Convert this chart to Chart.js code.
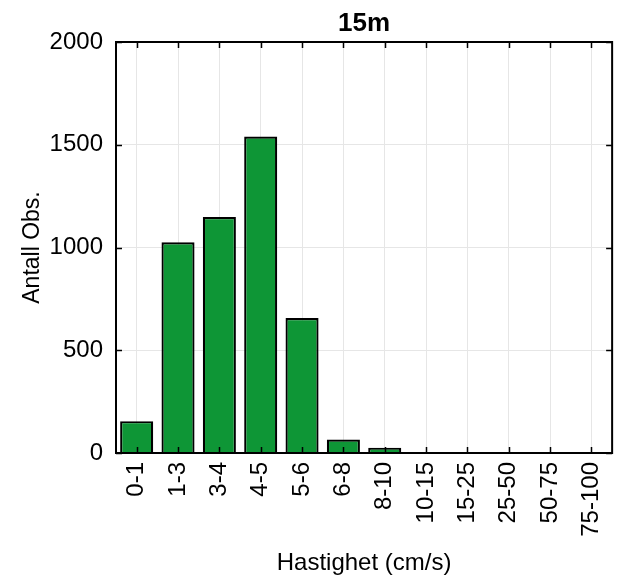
<!DOCTYPE html>
<html>
<head>
<meta charset="utf-8">
<script src="https://cdn.jsdelivr.net/npm/chart.js@4"></script>
<style>
  html, body { margin: 0; padding: 0; background: #fff; }
  #wrap { width: 630px; height: 583px; }
</style>
</head>
<body>
<div id="wrap"><canvas id="c" width="630" height="583"></canvas></div>
<script>
// Speed classes (cm/s) and number of observations at 15 m depth
const speedClasses = ['0-1', '1-3', '3-4', '4-5', '5-6', '6-8', '8-10', '10-15', '15-25', '25-50', '50-75', '75-100'];
const observations = [155, 1025, 1148, 1540, 657, 66, 26, 0, 0, 0, 0, 0];
const yTickValues = [0, 500, 1000, 1500, 2000];

const FONT = 'Liberation Sans, Arial, Helvetica, sans-serif';

// Frame around the plot area with short inward tick marks on all four sides
const boxFrame = {
  id: 'boxFrame',
  afterDraw(chart) {
    const { ctx, chartArea: a, scales: { x, y } } = chart;
    const len = 6;
    ctx.save();
    ctx.strokeStyle = '#000';
    ctx.lineWidth = 1.5;
    ctx.beginPath();
    x.ticks.forEach((t, i) => {
      const px = Math.round(x.getPixelForTick(i)) + 0.5;
      ctx.moveTo(px, a.bottom); ctx.lineTo(px, a.bottom - len);
      ctx.moveTo(px, a.top); ctx.lineTo(px, a.top + len);
    });
    yTickValues.forEach(v => {
      const py = Math.round(y.getPixelForValue(v)) + 0.5;
      ctx.moveTo(a.left, py); ctx.lineTo(a.left + len, py);
      ctx.moveTo(a.right, py); ctx.lineTo(a.right - len, py);
    });
    ctx.stroke();
    ctx.lineWidth = 2;
    ctx.strokeRect(a.left, a.top, a.right - a.left, a.bottom - a.top);
    ctx.restore();
  }
};

new Chart(document.getElementById('c'), {
  type: 'bar',
  data: {
    labels: speedClasses,
    datasets: [{
      data: observations,
      backgroundColor: '#0e9636',
      borderColor: '#000',
      borderWidth: 2.2,
      borderSkipped: 'start',
      barPercentage: 0.8,
      categoryPercentage: 1.0
    }]
  },
  options: {
    responsive: false,
    animation: false,
    layout: { padding: { left: 0, right: 6, top: 0, bottom: 0 } },
    plugins: {
      legend: { display: false },
      tooltip: { enabled: false },
      title: {
        display: true,
        fullSize: false,
        text: '15m',
        color: '#000',
        font: { family: FONT, size: 26, weight: 'bold' },
        padding: { top: 8, bottom: 2.8 }
      }
    },
    scales: {
      x: {
        grid: { color: '#e6e6e6', lineWidth: 1, offset: false, drawTicks: false },
        border: { display: false },
        ticks: {
          color: '#000',
          font: { family: FONT, size: 24 },
          minRotation: 90,
          maxRotation: 90,
          autoSkip: false,
          padding: 9
        },
        title: {
          display: true,
          text: 'Hastighet (cm/s)',
          color: '#000',
          font: { family: FONT, size: 24 },
          padding: { top: 0, bottom: 5 }
        },
        afterFit(s) { s.height = 130; }
      },
      y: {
        min: 0,
        max: 2000,
        grid: { color: '#e6e6e6', lineWidth: 1, drawTicks: false },
        border: { display: false },
        ticks: {
          stepSize: 500,
          color: '#000',
          font: { family: FONT, size: 24 },
          padding: 13,
          callback: v => String(v)
        },
        title: {
          display: true,
          text: 'Antall Obs.',
          color: '#000',
          font: { family: FONT, size: 23 },
          padding: { top: 19, bottom: 0 }
        },
        afterFit(s) { s.width = 116; }
      }
    }
  },
  plugins: [boxFrame]
});
</script>
</body>
</html>
